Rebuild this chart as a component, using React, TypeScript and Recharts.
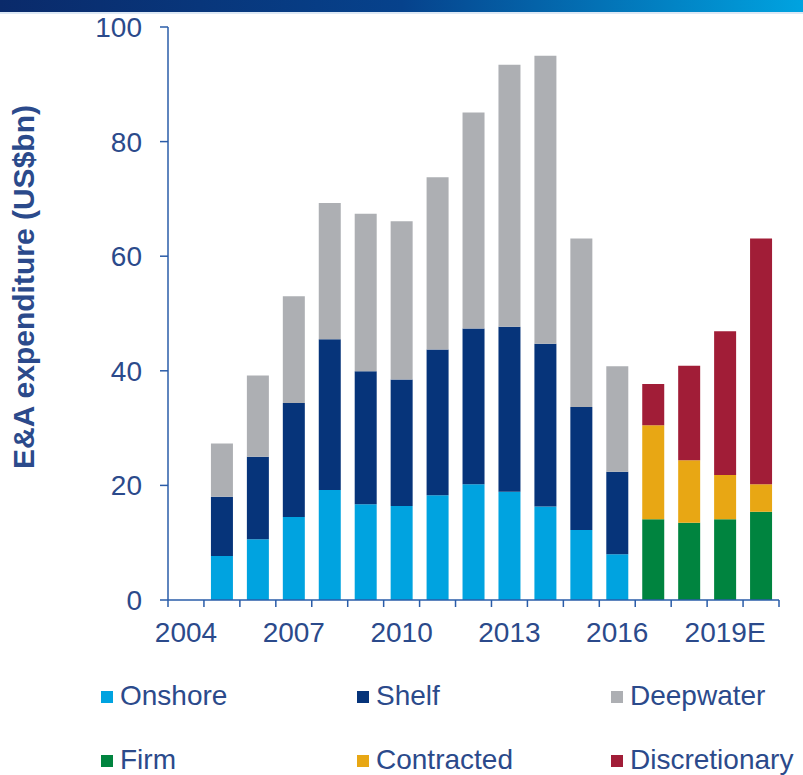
import { Bar, BarChart, XAxis, YAxis } from 'recharts';

const years = ['2004', '2005', '2006', '2007', '2008', '2009', '2010', '2011', '2012', '2013', '2014', '2015', '2016', '2017', '2018', '2019E', '2020E'];
const onshore = [null, 7.7, 10.6, 14.5, 19.2, 16.7, 16.4, 18.3, 20.2, 18.9, 16.3, 12.2, 8.0, null, null, null, null];
const shelf = [null, 10.3, 14.4, 19.9, 26.3, 23.2, 22.1, 25.4, 27.2, 28.8, 28.4, 21.5, 14.4, null, null, null, null];
const deepwater = [null, 9.3, 14.2, 18.6, 23.8, 27.5, 27.6, 30.1, 37.7, 45.7, 50.3, 29.4, 18.4, null, null, null, null];
const firm = [null, null, null, null, null, null, null, null, null, null, null, null, null, 14.1, 13.5, 14.1, 15.4];
const contracted = [null, null, null, null, null, null, null, null, null, null, null, null, null, 16.4, 10.9, 7.7, 4.8];
const discretionary = [null, null, null, null, null, null, null, null, null, null, null, null, null, 7.2, 16.5, 25.1, 42.9];
const yTicks = [0, 20, 40, 60, 80, 100];

const series = [
    { key: 'onshore', name: 'Onshore', color: '#00A3E0', values: onshore },
    { key: 'shelf', name: 'Shelf', color: '#06347A', values: shelf },
    { key: 'deepwater', name: 'Deepwater', color: '#ADAFB3', values: deepwater },
    { key: 'firm', name: 'Firm', color: '#00843F', values: firm },
    { key: 'contracted', name: 'Contracted', color: '#E8A714', values: contracted },
    { key: 'discretionary', name: 'Discretionary', color: '#A11D37', values: discretionary },
];

const data = years.map((year, i) => {
    const row: Record<string, string | number | null> = { year };
    series.forEach((s) => (row[s.key] = s.values[i]));
    return row;
});

const TEXT = '#2B4A8B';
const AXIS = '#2A5CA8';
const FONT = '"Liberation Sans", Arial, sans-serif';

function YearTick(props: any) {
    const { x, y, payload, index } = props;
    const half = payload?.offset ?? 18;
    const isLast = index === years.length - 1;
    return (
        <g>
            <line x1={x - half} x2={x - half} y1={y} y2={y + 7} stroke={AXIS} strokeWidth={1.5} />
            {isLast && <line x1={x + half} x2={x + half} y1={y} y2={y + 7} stroke={AXIS} strokeWidth={1.5} />}
            {index % 3 === 0 && (
                <text x={x} y={y + 42} textAnchor="middle" fill={TEXT} fontSize={28} fontFamily={FONT}>
                    {payload.value}
                </text>
            )}
        </g>
    );
}

export default function App() {
    return (
        <div style={{ position: 'absolute', left: 0, top: 0, width: 803, height: 775, background: '#fff', fontFamily: FONT }}>
            <div style={{ height: 12, background: 'linear-gradient(90deg, #0A2A6A 0%, #06428C 50%, #00A3E0 100%)', borderBottom: '2px solid #DCE8F5' }} />
            <div style={{ position: 'absolute', left: 0, top: 0 }}>
                <BarChart width={803} height={660} data={data} margin={{ top: 27, right: 24, left: 0, bottom: 0 }} barSize={22}>
                    <XAxis
                        dataKey="year"
                        interval={0}
                        height={60}
                        tickSize={0}
                        tickMargin={0}
                        tickLine={false}
                        axisLine={{ stroke: AXIS, strokeWidth: 1.5 }}
                        tick={<YearTick />}
                    />
                    <YAxis
                        width={168}
                        domain={[0, 100]}
                        ticks={yTicks}
                        interval={0}
                        tickSize={8}
                        tickMargin={18}
                        axisLine={{ stroke: AXIS, strokeWidth: 1.5 }}
                        tickLine={{ stroke: AXIS, strokeWidth: 1.5 }}
                        tick={{ fill: TEXT, fontSize: 28, fontFamily: FONT }}
                    />
                    {series.map((s) => (
                        <Bar key={s.key} dataKey={s.key} name={s.name} stackId="a" fill={s.color} isAnimationActive={false} />
                    ))}
                </BarChart>
            </div>
            <svg width={803} height={775} style={{ position: 'absolute', left: 0, top: 0, pointerEvents: 'none' }}>
                <text
                    transform="translate(34, 287) rotate(-90)"
                    textAnchor="middle"
                    fill={TEXT}
                    fontSize={30}
                    fontWeight="bold"
                    fontFamily={FONT}
                >
                    E&amp;A expenditure (US$bn)
                </text>
                {series.map((s, i) => {
                    const col = i % 3;
                    const row = Math.floor(i / 3);
                    const lx = [101, 357, 611][col];
                    const baseline = [705, 769][row];
                    return (
                        <g key={s.key}>
                            <rect x={lx} y={baseline - 14} width={12} height={12} fill={s.color} />
                            <text x={lx + 19} y={baseline} fill={TEXT} fontSize={28} fontFamily={FONT}>
                                {s.name}
                            </text>
                        </g>
                    );
                })}
            </svg>
        </div>
    );
}
